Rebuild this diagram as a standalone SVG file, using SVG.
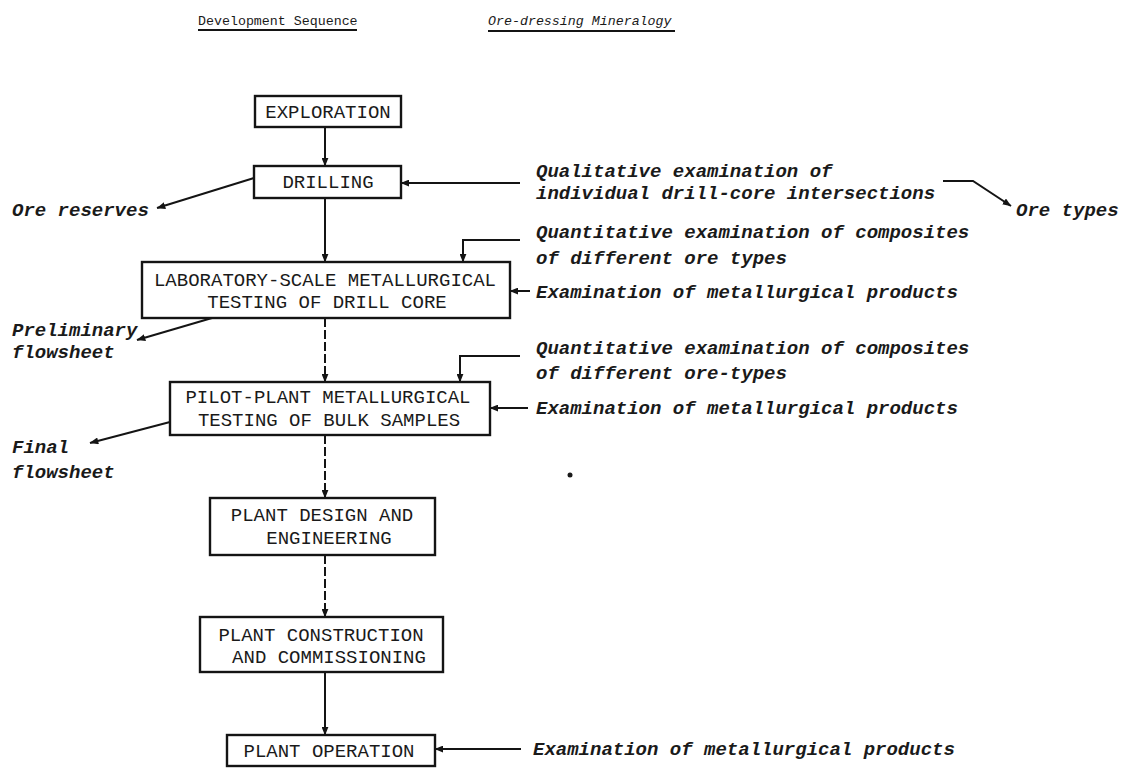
<svg xmlns="http://www.w3.org/2000/svg" width="1141" height="771" viewBox="0 0 1141 771">
<style>
.box{fill:#fff;stroke:#141414;stroke-width:2.4}
.bt{font-family:"Liberation Mono","DejaVu Sans Mono",monospace;font-size:19px;fill:#1a1a1a;text-anchor:middle}
.it{font-family:"Liberation Mono","DejaVu Sans Mono",monospace;font-size:19px;font-style:italic;font-weight:bold;fill:#1a1a1a}
.hd{font-family:"Liberation Mono","DejaVu Sans Mono",monospace;font-size:13.3px;fill:#1a1a1a}
.ln{fill:none;stroke:#141414;stroke-width:2}
.dash{stroke-dasharray:9 3}
</style>
<defs>
<marker id="ah" viewBox="0 0 10 8" refX="9.5" refY="4" markerWidth="9" markerHeight="7" markerUnits="userSpaceOnUse" orient="auto">
<path d="M0,0 L10,4 L0,8 Z" fill="#141414"/>
</marker>
</defs>
<rect width="1141" height="771" fill="#fff"/>

<g id="headers">
<text class="hd" x="198" y="25">Development Sequence</text>
<line class="ln" x1="198" y1="30" x2="357" y2="30" stroke-width="1.6"/>
<text class="hd" x="488" y="25" font-style="italic">Ore-dressing Mineralogy</text>
<line class="ln" x1="488" y1="31" x2="675" y2="31" stroke-width="1.6"/>
</g>

<g id="connectors">
<path class="ln" d="M325,127 V166" marker-end="url(#ah)"/>
<path class="ln" d="M325,198 V262" marker-end="url(#ah)"/>
<path class="ln dash" d="M325,318 V382" marker-end="url(#ah)"/>
<path class="ln dash" d="M325,435 V498" marker-end="url(#ah)"/>
<path class="ln dash" d="M325,555 V617" marker-end="url(#ah)"/>
<path class="ln" d="M325,672 V735" marker-end="url(#ah)"/>
<path class="ln" d="M520,183 H401" marker-end="url(#ah)"/>
<path class="ln" d="M254,178 L157,208" marker-end="url(#ah)"/>
<path class="ln" d="M943,181 H973 L1011,206" marker-end="url(#ah)"/>
<path class="ln" d="M520,240 H463 V262" marker-end="url(#ah)"/>
<path class="ln" d="M530,291 H510" marker-end="url(#ah)"/>
<path class="ln" d="M212,318 L137,340" marker-end="url(#ah)"/>
<path class="ln" d="M520,356 H460 V382" marker-end="url(#ah)"/>
<path class="ln" d="M528,408 H490" marker-end="url(#ah)"/>
<path class="ln" d="M170,422 L90,443" marker-end="url(#ah)"/>
<path class="ln" d="M521,749 H435" marker-end="url(#ah)"/>
</g>

<g id="exploration">
<rect class="box" x="255" y="96" width="146" height="31"/>
<text class="bt" x="328" y="118">EXPLORATION</text>
</g>
<g id="drilling">
<rect class="box" x="254" y="166" width="147" height="32"/>
<text class="bt" x="328" y="188">DRILLING</text>
</g>
<g id="lab-testing">
<rect class="box" x="142" y="262" width="368" height="56"/>
<text class="bt" x="325" y="286">LABORATORY-SCALE METALLURGICAL</text>
<text class="bt" x="327" y="308">TESTING OF DRILL CORE</text>
</g>
<g id="pilot-testing">
<rect class="box" x="170" y="382" width="320" height="53"/>
<text class="bt" x="328" y="403">PILOT-PLANT METALLURGICAL</text>
<text class="bt" x="329" y="426">TESTING OF BULK SAMPLES</text>
</g>
<g id="plant-design">
<rect class="box" x="210" y="498" width="225" height="57"/>
<text class="bt" x="322" y="521">PLANT DESIGN AND</text>
<text class="bt" x="329" y="544">ENGINEERING</text>
</g>
<g id="plant-construction">
<rect class="box" x="200" y="617" width="243" height="55"/>
<text class="bt" x="321" y="641">PLANT CONSTRUCTION</text>
<text class="bt" x="329" y="663">AND COMMISSIONING</text>
</g>
<g id="plant-operation">
<rect class="box" x="227" y="735" width="208" height="31"/>
<text class="bt" x="329" y="757">PLANT OPERATION</text>
</g>

<g id="ore-reserves"><text class="it" x="12" y="216">Ore reserves</text></g>
<g id="preliminary-flowsheet">
<text class="it" x="12" y="336">Preliminary</text>
<text class="it" x="12" y="358">flowsheet</text>
</g>
<g id="final-flowsheet">
<text class="it" x="12" y="453">Final</text>
<text class="it" x="12" y="478">flowsheet</text>
</g>
<g id="qualitative-exam">
<text class="it" x="536" y="177">Qualitative examination of</text>
<text class="it" x="536" y="199">individual drill-core intersections</text>
</g>
<g id="ore-types"><text class="it" x="1016" y="216">Ore types</text></g>
<g id="quantitative-exam-1">
<text class="it" x="536" y="238">Quantitative examination of composites</text>
<text class="it" x="536" y="264">of different ore types</text>
</g>
<g id="metallurgical-exam-1"><text class="it" x="536" y="298">Examination of metallurgical products</text></g>
<g id="quantitative-exam-2">
<text class="it" x="536" y="354">Quantitative examination of composites</text>
<text class="it" x="536" y="379">of different ore-types</text>
</g>
<g id="metallurgical-exam-2"><text class="it" x="536" y="414">Examination of metallurgical products</text></g>
<g id="metallurgical-exam-3"><text class="it" x="533" y="755">Examination of metallurgical products</text></g>
<circle cx="570" cy="475" r="2.5" fill="#1a1a1a"/>
</svg>
